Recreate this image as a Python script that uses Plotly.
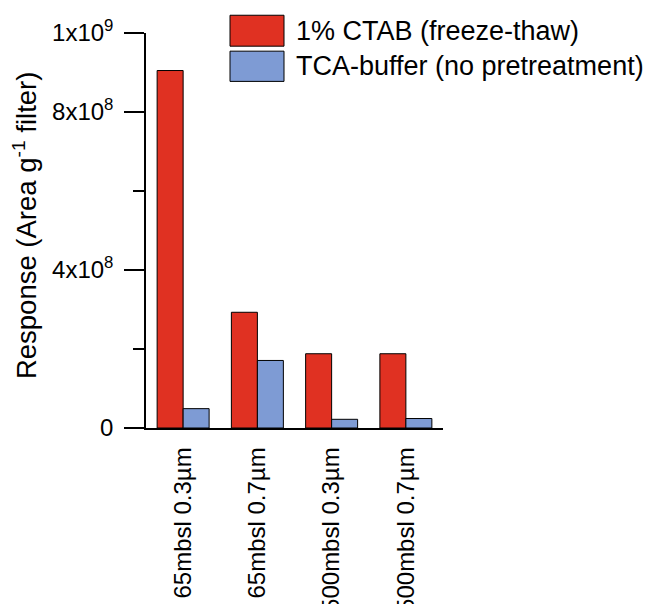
import plotly.graph_objects as go

categories = ["65mbsl 0.3µm", "65mbsl 0.7µm", "500mbsl 0.3µm", "500mbsl 0.7µm"]
series_names = ["1% CTAB (freeze-thaw)", "TCA-buffer (no pretreatment)"]
ctab_values = [9.05e8, 2.93e8, 1.88e8, 1.88e8]
tca_values = [4.9e7, 1.71e8, 2.2e7, 2.4e7]
y_tick_vals = [0, 4e8, 8e8, 1e9]
y_tick_text = ["0", "4x10<sup>8</sup>", "8x10<sup>8</sup>", "1x10<sup>9</sup>"]
y_minor_vals = [2e8, 6e8]
y_title = "Response (Area g<sup>-1</sup> filter)"

RED = "#E03122"
BLUE = "#7E9BD4"
FONT = "Liberation Sans, Arial, sans-serif"

fig = go.Figure()
fig.add_trace(go.Bar(x=categories, y=ctab_values, name=series_names[0],
                     marker=dict(color=RED, line=dict(color="black", width=1)),
                     showlegend=False))
fig.add_trace(go.Bar(x=categories, y=tca_values, name=series_names[1],
                     marker=dict(color=BLUE, line=dict(color="black", width=1)),
                     showlegend=False))

# page offset (body margin) of 8px
OFF = 8
# plot area in page pixels
L, R, T, B = 146 - OFF, 443 - OFF, 32.5 - OFF, 428.3 - OFF
W, H = R - L, B - T

def px(x):
    return (x - OFF - L) / W

def py(y):
    return (B - (y - OFF)) / H

# custom legend
legend_items = [(series_names[0], RED, 14.7, 45.7), (series_names[1], BLUE, 50.7, 81.0)]
for name, col, y0, y1 in legend_items:
    fig.add_shape(type="rect", xref="paper", yref="paper",
                  x0=px(230), x1=px(284), y0=py(y1), y1=py(y0),
                  fillcolor=col, line=dict(color="black", width=1))
    fig.add_annotation(xref="paper", yref="paper", x=px(294), y=py((y0 + y1) / 2),
                       text=name, showarrow=False, xanchor="left", yanchor="middle",
                       font=dict(size=27, color="black", family=FONT))

fig.add_annotation(xref="paper", yref="paper", x=px(25), y=py(225),
                   text=y_title, textangle=-90, showarrow=False,
                   xanchor="center", yanchor="middle",
                   font=dict(size=27.5, color="black", family=FONT))

fig.update_layout(
    width=652, height=604,
    margin=dict(l=L, r=652 - R, t=T, b=604 - B, pad=0, autoexpand=False),
    plot_bgcolor="white", paper_bgcolor="white",
    barmode="group", bargap=0.3, bargroupgap=0,
    font=dict(family=FONT, size=24, color="black"),
    xaxis=dict(showline=True, linecolor="black", linewidth=1.5,
               ticks="", tickangle=-90, showgrid=False, automargin=False,
               tickfont=dict(size=24), ticklabelstandoff=8,
               range=[-0.5, 3.5]),
    yaxis=dict(range=[0, 1e9], showline=True, linecolor="black", linewidth=1.5,
               ticks="outside", ticklen=20, tickwidth=1.5, tickcolor="black",
               tickvals=y_tick_vals, ticktext=y_tick_text, automargin=False,
               tickfont=dict(size=24), showgrid=False, zeroline=False,
               ticklabelstandoff=6,
               minor=dict(tickvals=y_minor_vals, ticks="outside", ticklen=11,
                          tickwidth=1.5, tickcolor="black", showgrid=False)),
)

fig.write_html("out.html")
